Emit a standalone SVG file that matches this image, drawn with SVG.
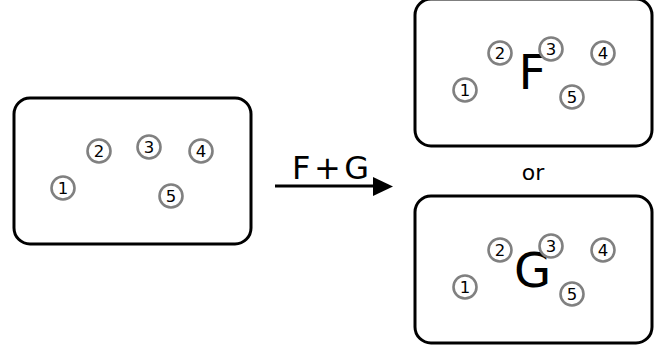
<svg xmlns="http://www.w3.org/2000/svg" width="664" height="347" viewBox="0 0 664 347">
<style>
.box{fill:#fff;stroke:#000;stroke-width:3}
.c{fill:#fff;stroke:#808080;stroke-width:2.6}
.n{font-family:"DejaVu Sans",sans-serif;font-size:16.5px;text-anchor:middle;fill:#000}
.big{font-family:"DejaVu Sans",sans-serif;font-size:48px;fill:#000}
.lbl{font-family:"DejaVu Sans",sans-serif;fill:#000}
</style>
<defs>
<g id="ball"><circle class="c" r="11.5"/></g>
</defs>
<g id="start">
<rect class="box" x="14" y="98" width="237" height="146" rx="16"/>
<use href="#ball" x="63" y="188"/><text class="n" x="63" y="194">1</text>
<use href="#ball" x="99" y="151"/><text class="n" x="99" y="157">2</text>
<use href="#ball" x="149" y="147"/><text class="n" x="149" y="153">3</text>
<use href="#ball" x="201" y="151"/><text class="n" x="201" y="157">4</text>
<use href="#ball" x="171" y="196"/><text class="n" x="171" y="202">5</text>
</g>
<g id="resultF">
<rect class="box" x="415" y="-1" width="237" height="147" rx="16"/>
<use href="#ball" x="465" y="90"/><text class="n" x="465" y="96">1</text>
<use href="#ball" x="500" y="53"/><text class="n" x="500" y="59">2</text>
<text class="big" x="518.5" y="89">F</text>
<use href="#ball" x="551" y="49"/><text class="n" x="551" y="55">3</text>
<use href="#ball" x="603" y="53"/><text class="n" x="603" y="59">4</text>
<use href="#ball" x="572" y="97"/><text class="n" x="572" y="103">5</text>
</g>
<g id="or">
<text class="lbl" x="533" y="180" font-size="22" text-anchor="middle">or</text>
</g>
<g id="resultG">
<rect class="box" x="415" y="196" width="237" height="147" rx="16"/>
<use href="#ball" x="465" y="287"/><text class="n" x="465" y="293">1</text>
<use href="#ball" x="500" y="250"/><text class="n" x="500" y="256">2</text>
<text class="big" x="514" y="287">G</text>
<use href="#ball" x="551" y="246"/><text class="n" x="551" y="252">3</text>
<use href="#ball" x="603" y="250"/><text class="n" x="603" y="256">4</text>
<use href="#ball" x="572" y="294"/><text class="n" x="572" y="300">5</text>
</g>
<g id="connectors">
<line x1="275" y1="186" x2="376" y2="186" stroke="#000" stroke-width="3"/>
<polygon points="373,177 393,186.5 373,196" fill="#000"/>
<text class="lbl" x="292" y="178.5" font-size="32" textLength="77" lengthAdjust="spacing">F+G</text>
</g>
</svg>
